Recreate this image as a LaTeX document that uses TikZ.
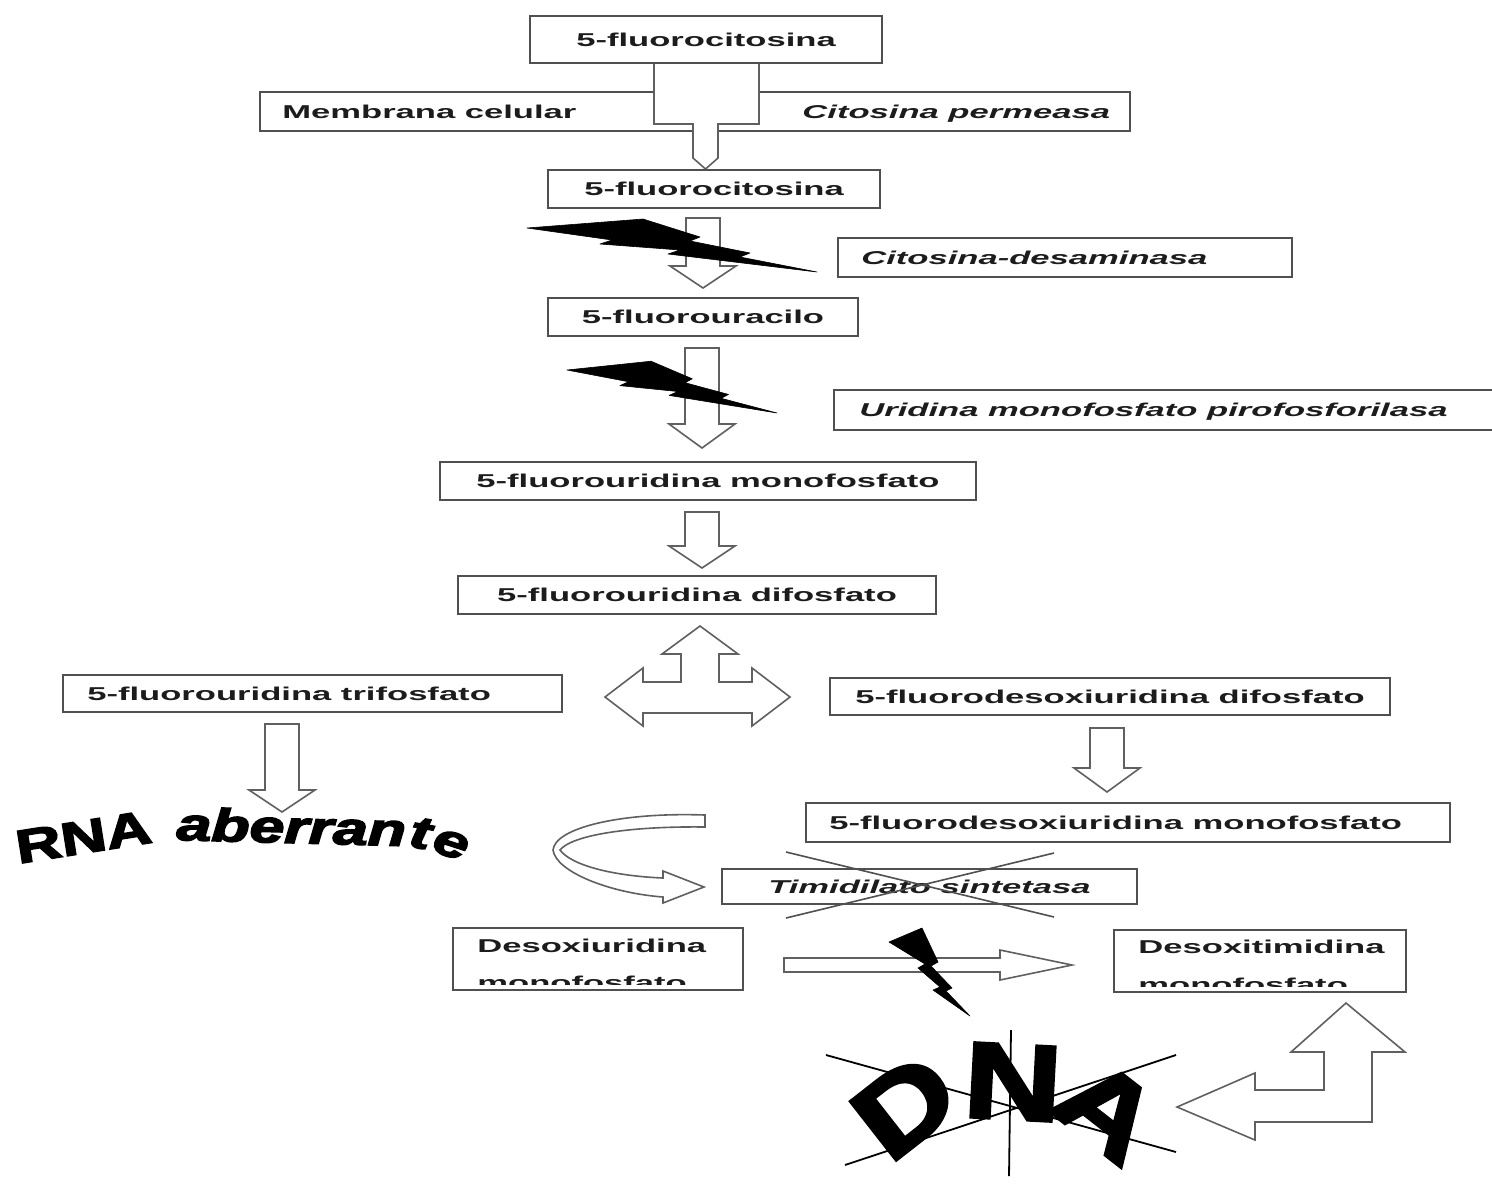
\documentclass[tikz,border=0pt]{standalone}
\usepackage{fontspec}
\setmainfont{Liberation Sans}
\newfontfamily\heavyfont[FakeBold=3]{Liberation Sans}
\usetikzlibrary{calc}
\definecolor{boxc}{HTML}{505050}
\definecolor{arrc}{HTML}{606060}
\definecolor{txt}{HTML}{1C1C1C}
\newcommand\wx[1]{\scalebox{1.86}[1]{#1}}
\newcommand\pbox[5]{\node[box, minimum width={(#4-#2)*0.5pt}, minimum height={(#5-#3)*0.5pt}] (#1) at ({(#2+#4)/2},{(#3+#5)/2}) {};}
\newcommand\dnarrow[4]{\draw[blk] ({#1-17},#2) -- ({#1+17},#2) -- ({#1+17},#3) -- ({#1+33},#3) -- (#1,#4) -- ({#1-33},#3) -- ({#1-17},#3) -- cycle;}
\tikzset{
  box/.style={draw=boxc, line width=1.1pt, fill=white, inner sep=0pt},
  lbl/.style={font=\fontsize{9.3}{11}\selectfont\bfseries, text=txt, inner sep=0pt, text height=6.7pt, text depth=0pt},
  ilbl/.style={lbl, font=\fontsize{9.3}{11}\selectfont\bfseries\itshape},
  blk/.style={draw=arrc, line width=0.8pt, fill=white, line join=miter},
  bolt/.style={fill=black, draw=black, line width=0.3pt, line join=round},
  xline/.style={draw=boxc, line width=0.8pt},
  dnaline/.style={draw=black, line width=0.9pt},
  rnal/.style={font=\fontsize{23.5}{25}\selectfont\heavyfont\bfseries, text=black, inner sep=0pt, anchor=base},
  rnai/.style={rnal, font=\fontsize{23}{25}\selectfont\heavyfont\bfseries\itshape},
  dnal/.style={font=\fontsize{54}{58}\selectfont\heavyfont\bfseries, text=black, inner sep=0pt},
}
\begin{document}
\begin{tikzpicture}[x=0.5pt,y=-0.5pt]
\useasboundingbox (0,0) rectangle (1492,1184);
\clip (0,0) rectangle (1492,1184);
\fill[white] (0,0) rectangle (1492,1184);

% membrane and first arrow
\pbox{mem}{260}{92}{1130}{131}
\draw[blk] (654,63) -- (759,63) -- (759,124) -- (718,124) -- (718,158) -- (705.5,169) -- (693,158) -- (693,124) -- (654,124) -- cycle;
\pbox{b1}{530}{16}{882}{63}
\node[lbl] (t1) at (b1.center) {\wx{5-fluorocitosina}};
\node[lbl, anchor=west] (tm1) at ([xshift=11.5pt]mem.west) {\wx{Membrana celular}};
\node[ilbl, anchor=west] (tm2) at (802,112) {\wx{Citosina permeasa}};

\pbox{b3}{548}{170}{880}{208}
\node[lbl] (t3) at (b3.center) {\wx{5-fluorocitosina}};

\dnarrow{703}{218}{266}{288}
\pbox{cd}{838}{238}{1292}{277}
\node[ilbl, anchor=west] (tcd) at ([xshift=12pt]cd.west) {\wx{Citosina-desaminasa}};

\pbox{b4}{548}{298}{858}{336}
\node[lbl] (t4) at (b4.center) {\wx{5-fluorouracilo}};

\dnarrow{702}{348}{424}{448}
\pbox{ump}{834}{390}{1510}{430}
\node[ilbl, anchor=west] (tump) at ([xshift=13pt]ump.west) {\wx{Uridina monofosfato pirofosforilasa}};

\pbox{b5}{440}{462}{976}{500}
\node[lbl] (t5) at (b5.center) {\wx{5-fluorouridina monofosfato}};

\dnarrow{702}{512}{546}{568}
\pbox{b6}{458}{576}{936}{614}
\node[lbl] (t6) at (b6.center) {\wx{5-fluorouridina difosfato}};

% triple arrow
\draw[blk] (700,626) -- (738,654) -- (719,654) -- (719,682) -- (752,682) -- (752,668) -- (790,697) -- (752,726) -- (752,713) -- (643,713) -- (643,726) -- (605,697) -- (643,668) -- (643,682) -- (681,682) -- (681,654) -- (662,654) -- cycle;

\pbox{tri}{63}{675}{562}{712}
\node[lbl, anchor=west] (ttri) at ([xshift=12.5pt]tri.west) {\wx{5-fluorouridina trifosfato}};
\pbox{dif}{830}{678}{1390}{715}
\node[lbl] (tdif) at (dif.center) {\wx{5-fluorodesoxiuridina difosfato}};

\dnarrow{282}{724}{790}{812}
\dnarrow{1107}{728}{768}{792}

\pbox{mono}{806}{803}{1450}{842}
\node[lbl, anchor=west] (tmono) at ([xshift=12pt]mono.west) {\wx{5-fluorodesoxiuridina monofosfato}};

% curved arrow
\draw[blk] (705,815) .. controls (620,812) and (555,828) .. (553,850)
  .. controls (556,872) and (610,893) .. (663,897) -- (663,903) -- (704,887) -- (663,871) -- (663,878)
  .. controls (615,876) and (572,866) .. (560,850)
  .. controls (572,835) and (630,826) .. (705,827) -- cycle;

\pbox{tim}{722}{869}{1137}{904}
\node[ilbl] (ttim) at (tim.center) {\wx{Timidilato sintetasa}};
\draw[xline] (786,852) -- (1054,917);
\draw[xline] (786,918) -- (1054,853);

\pbox{du}{453}{928}{743}{990}
\node[lbl, anchor=west] (tdu1) at (477,946) {\wx{Desoxiuridina}};
\begin{scope}
  \clip (453,928) rectangle (743,984);
  \node[lbl, anchor=base west] (tdu2) at (477,989) {\wx{monofosfato}};
\end{scope}
\pbox{dt}{1114}{930}{1406}{992}
\node[lbl, anchor=west] (tdt1) at (1138,947) {\wx{Desoxitimidina}};
\begin{scope}
  \clip (1114,930) rectangle (1406,986);
  \node[lbl, anchor=base west] (tdt2) at (1138,991) {\wx{monofosfato}};
\end{scope}

% horizontal arrow
\draw[blk] (784,958) -- (1000,958) -- (1000,950) -- (1072,965) -- (1000,980) -- (1000,972) -- (784,972) -- cycle;

% bent arrow DNA <-> Desoxitimidina
\draw[blk] (1177,1107) -- (1255,1073) -- (1255,1090) -- (1324,1090) -- (1324,1052) -- (1291,1052) -- (1346,1003) -- (1405,1052) -- (1372,1052) -- (1372,1122) -- (1255,1122) -- (1255,1140) -- cycle;

% lightning bolts
\fill[bolt] (527,228) -- (643,219) -- (700,237) -- (690,241) -- (750,253) -- (740,257) -- (817,272) -- (668,254) -- (680,250) -- (600,244) -- (612,240) -- cycle;
\begin{scope}[shift={(567,370)}, xscale=0.724, yscale=0.977, shift={(-527,-228)}]
\fill[bolt] (527,228) -- (643,219) -- (700,237) -- (690,241) -- (750,253) -- (740,257) -- (817,272) -- (668,254) -- (680,250) -- (600,244) -- (612,240) -- cycle;
\end{scope}
\fill[bolt] (889,942) -- (922,928) -- (938,962) -- (931,966) -- (952,988) -- (946,991) -- (970,1016) -- (933,990) -- (940,987) -- (918,968) -- (925,964) -- cycle;

% RNA aberrante
\node[rnal, rotate=9] (rna1) at (86,853) {\scalebox{1.34}[1]{RNA}};
\node[rnai, rotate=-1.5] (rna2) at (291,843) {\scalebox{1.36}[1]{aberran}};
\node[rnai, rotate=-10] (rna3) at (418,848) {\scalebox{1.36}[1]{t}};
\node[rnai, rotate=-18] (rna4) at (447,856) {\scalebox{1.36}[1]{e}};

% DNA
\node[dnal, rotate=38] (dnaD) at (905,1106) {\scalebox{1.25}[1]{D}};
\node[dnal, rotate=-3] (dnaN) at (1013,1082) {\scalebox{1.25}[1]{N}};
\node[dnal, rotate=-38] (dnaA) at (1108,1110) {\scalebox{1.25}[1]{A}};
\draw[dnaline] (826,1055) -- (1176,1152);
\draw[dnaline] (845,1165) -- (1176,1055);
\draw[dnaline] (1011,1030) -- (1009,1176);
\end{tikzpicture}
\end{document}
